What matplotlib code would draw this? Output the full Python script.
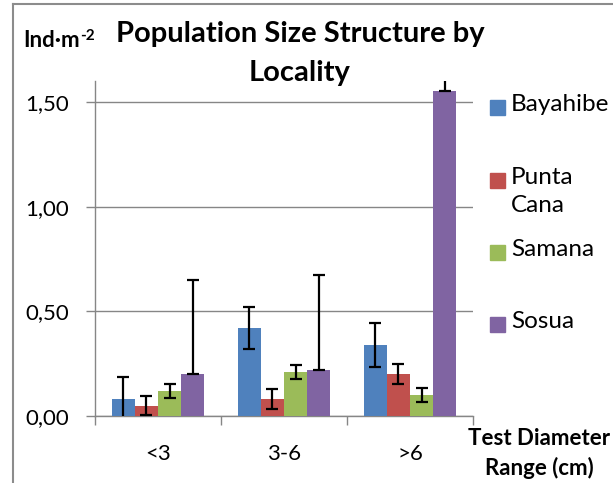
import numpy as np
import matplotlib
matplotlib.use("Agg")
import matplotlib.pyplot as plt
from matplotlib.patches import Rectangle
from matplotlib.lines import Line2D

plt.rcParams["font.family"] = ["Lato", "DejaVu Sans"]

categories = ["<3", "3-6", ">6"]
series = ["Bayahibe", "Punta Cana", "Samana", "Sosua"]
legend_labels = ["Bayahibe", "Punta\nCana", "Samana", "Sosua"]
colors = ["#4F81BD", "#C0504D", "#9BBB59", "#8064A2"]

bayahibe = [0.08, 0.42, 0.34]
punta_cana = [0.05, 0.08, 0.20]
samana = [0.12, 0.21, 0.10]
sosua = [0.20, 0.22, 1.55]

bayahibe_err = [0.105, 0.10, 0.105]
punta_cana_err = [0.045, 0.048, 0.047]
samana_err = [0.033, 0.034, 0.034]
sosua_err_up = [0.45, 0.455, 0.45]

values = [bayahibe, punta_cana, samana, sosua]
errs = [
    [bayahibe_err, bayahibe_err],
    [punta_cana_err, punta_cana_err],
    [samana_err, samana_err],
    [[0, 0, 0], sosua_err_up],   # Sosua: plus-only bars
]

W, H = 613, 483
def fx(px): return px / W
def fy(py): return 1 - py / H

fig = plt.figure(figsize=(W / 100, H / 100), dpi=100)
ax = fig.add_axes([fx(95), fy(416), fx(378), (416 - 81) / H])

GRID = "#868686"
bw = 0.183
x = np.arange(len(categories))
for i, (vals, err, c) in enumerate(zip(values, errs, colors)):
    pos = x + (i - 1.5) * bw
    ax.bar(pos, vals, width=bw, color=c, zorder=3)
    ax.errorbar(pos, vals, yerr=err, fmt="none", ecolor="black",
                elinewidth=1.6, capsize=4.5, capthick=1.6, zorder=4)

ax.set_xlim(-0.5, 2.5)
ax.set_ylim(0, 1.6)
ax.set_yticks([0, 0.5, 1.0, 1.5])
ax.set_yticklabels(["0,00", "0,50", "1,00", "1,50"])
ax.yaxis.grid(True, color=GRID, lw=1.0, zorder=0)
ax.set_xticks(x)
ax.set_xticklabels(categories)
ax.set_xticks([-0.5, 0.5, 1.5, 2.5], minor=True)
ax.tick_params(axis="x", which="major", length=0, pad=20, labelsize=16)
ax.tick_params(axis="x", which="minor", length=6.5, width=1.0, color=GRID, direction="out")
ax.tick_params(axis="y", length=6.5, width=1.0, color=GRID, pad=12, labelsize=16)
for s in ["top", "right"]:
    ax.spines[s].set_visible(False)
for s in ["left", "bottom"]:
    ax.spines[s].set_color(GRID)
    ax.spines[s].set_linewidth(1.0)

# chart frame
fig.add_artist(Line2D([fx(13), fx(13)], [0, fy(3.5)], color="#8C8C8C", lw=1.5))
fig.add_artist(Line2D([fx(13), 1], [fy(3.5), fy(3.5)], color="#8C8C8C", lw=1.5))

# chart title, two lines
fig.text(fx(300), fy(42), "Population Size Structure by", ha="center", va="baseline",
         fontsize=21, fontweight="bold")
fig.text(fx(300), fy(81), "Locality", ha="center", va="baseline",
         fontsize=21, fontweight="bold")

# y unit label with superscript
unit = fig.text(fx(23), fy(47), "Ind·m", ha="left", va="baseline", fontsize=16, fontweight="bold")
fig.canvas.draw()
bb = unit.get_window_extent(fig.canvas.get_renderer())
fig.text(bb.x1 / W + fx(1), fy(40), "-2", ha="left", va="baseline", fontsize=11, fontweight="bold")

fig.text(fx(539), fy(445), "Test Diameter", ha="center", va="baseline", fontsize=16, fontweight="bold")
fig.text(fx(539), fy(475), "Range (cm)", ha="center", va="baseline", fontsize=16, fontweight="bold")

# legend
leg_y = [107, 180, 252, 324]
for lab, c, yy in zip(legend_labels, colors, leg_y):
    fig.add_artist(Rectangle((fx(490), fy(yy + 7.5)), fx(15), 15 / H, color=c,
                             transform=fig.transFigure))
    fig.text(fx(511), fy(yy - 13), lab, ha="left", va="top", fontsize=17.5,
             linespacing=1.4)

fig.savefig("out.png", dpi=100, facecolor="white")
